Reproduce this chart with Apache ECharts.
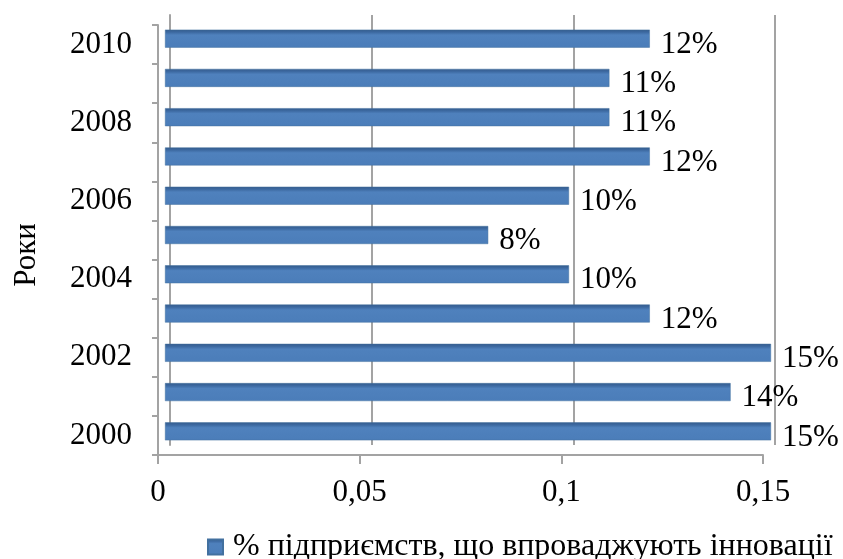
<!DOCTYPE html>
<html>
<head>
<meta charset="utf-8">
<script src="https://cdn.jsdelivr.net/npm/echarts@6/dist/echarts.min.js"></script>
<style>
  html, body { margin: 0; padding: 0; background: #fff; }
  #chart { width: 843px; height: 559px; }
</style>
</head>
<body>
<div id="chart"></div>
<script>
// роки (знизу вгору)
var years = ['2000', '2001', '2002', '2003', '2004', '2005', '2006', '2007', '2008', '2009', '2010']
// частка підприємств, що впроваджують інновації
var shares = [0.15, 0.14, 0.15, 0.12, 0.10, 0.08, 0.10, 0.12, 0.11, 0.11, 0.12]
var xTicks = [0, 0.05, 0.1, 0.15]
var seriesName = '% підприємств, що впроваджують інновації'

var font = 'Liberation Serif'
var gray = '#a3a3a3'

var chart = echarts.init(document.getElementById('chart'))
chart.setOption({
  backgroundColor: '#fff',
  textStyle: { fontFamily: font },
  legend: {
    left: 202,
    top: 526,
    itemWidth: 15,
    itemHeight: 15,
    icon: 'rect',
    data: [seriesName],
    textStyle: { fontFamily: font, fontSize: 32, color: '#000', padding: [0, 0, 0, 5] }
  },
  grid: [
    // задня стінка (сітка)
    { left: 170, top: 15, width: 605, height: 430 },
    // стовпчики
    { left: 165, top: 19, width: 606, height: 432 },
    // передні осі
    { left: 158, top: 25, width: 605, height: 430 }
  ],
  xAxis: [
    {
      gridIndex: 0, type: 'value', min: xTicks[0], max: xTicks[xTicks.length - 1], interval: 0.05,
      axisLine: { show: false }, axisTick: { show: false }, axisLabel: { show: false },
      splitLine: { show: true, lineStyle: { color: gray, width: 2 } }
    },
    {
      gridIndex: 1, type: 'value', min: 0, max: 0.15, interval: 0.05,
      axisLine: { show: false }, axisTick: { show: false }, axisLabel: { show: false },
      splitLine: { show: false }
    },
    {
      gridIndex: 2, type: 'value', min: 0, max: 0.15, interval: 0.05,
      axisLine: { show: true, lineStyle: { color: gray, width: 2 } },
      axisTick: { show: true, length: 9, lineStyle: { color: gray, width: 2 } },
      axisLabel: {
        margin: 22, fontFamily: font, fontSize: 31, color: '#000',
        formatter: function (v) { return String(+v.toFixed(2)).replace('.', ',') }
      },
      splitLine: { show: false }
    }
  ],
  yAxis: [
    {
      gridIndex: 0, type: 'category', data: years, position: 'right',
      axisLine: { show: true, lineStyle: { color: gray, width: 2 } },
      axisTick: { show: false }, axisLabel: { show: false }
    },
    {
      gridIndex: 1, type: 'category', data: years,
      axisLine: { show: false }, axisTick: { show: false }, axisLabel: { show: false }
    },
    {
      gridIndex: 2, type: 'category', data: years,
      name: 'Роки', nameLocation: 'middle', nameGap: 116, nameRotate: 90,
      nameTextStyle: { fontFamily: font, fontSize: 31, color: '#000', padding: [0, 30, 0, 0] },
      axisLine: { show: true, lineStyle: { color: gray, width: 2 } },
      axisTick: { show: true, length: 6, interval: 0, lineStyle: { color: gray, width: 2 } },
      axisLabel: { interval: 1, margin: 26, fontFamily: font, fontSize: 31, color: '#000', padding: [4, 0, 0, 0] }
    }
  ],
  series: [
    {
      name: seriesName,
      type: 'bar',
      xAxisIndex: 1,
      yAxisIndex: 1,
      barWidth: 18,
      data: shares,
      itemStyle: {
        color: new echarts.graphic.LinearGradient(0, 0, 0, 1, [
          { offset: 0, color: '#345b8c' },
          { offset: 0.15, color: '#3d6aa2' },
          { offset: 0.3, color: '#4f81bd' },
          { offset: 1, color: '#4b7db9' }
        ]),
        borderColor: '#42709f',
        borderWidth: 0.5
      },
      label: {
        show: true,
        position: 'right',
        distance: 11,
        offset: [0, 6],
        fontFamily: font,
        fontSize: 31,
        color: '#000',
        formatter: function (p) { return Math.round(p.value * 100) + '%' }
      }
    }
  ]
})
</script>
</body>
</html>
